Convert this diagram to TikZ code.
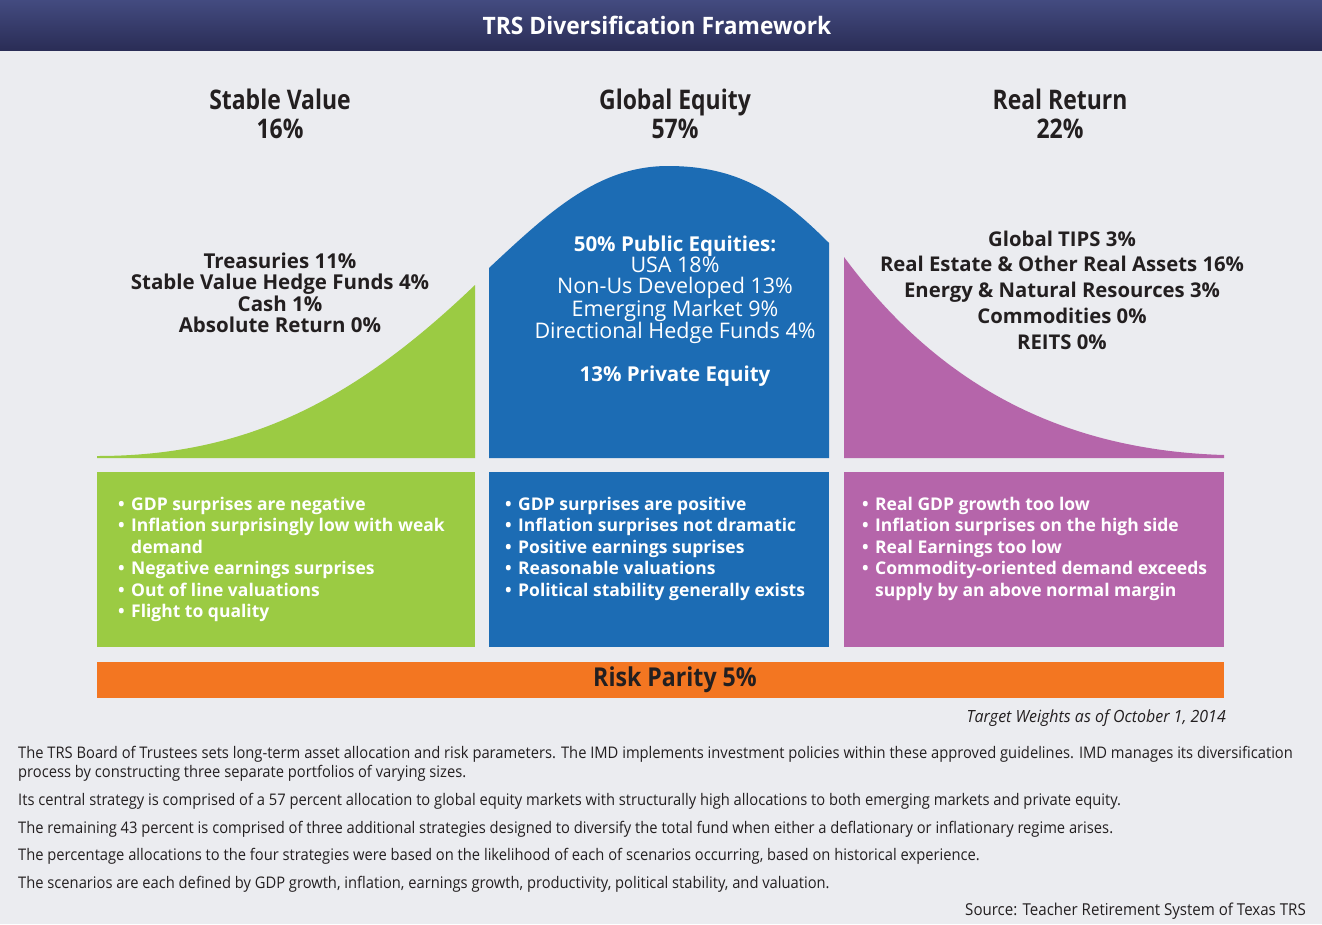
\documentclass[tikz,border=0pt]{standalone}
\usepackage{fontspec}
\setmainfont{Open Sans}
\newfontfamily\cond[FakeStretch=0.8]{Open Sans}
\newfontfamily\condhead[FakeStretch=0.85]{Open Sans}
\newfontfamily\condtitle[FakeStretch=0.95]{Open Sans}
\newfontfamily\condrp[FakeStretch=0.89]{Open Sans}
\newfontfamily\condbody[FakeStretch=0.92]{Open Sans}
\definecolor{bg}{RGB}{235,236,240}
\definecolor{navytop}{RGB}{67,75,128}
\definecolor{navybot}{RGB}{42,45,86}
\definecolor{sgreen}{RGB}{155,203,67}
\definecolor{sblue}{RGB}{28,108,180}
\definecolor{spurple}{RGB}{181,101,170}
\definecolor{sorange}{RGB}{243,118,33}
\definecolor{ink}{RGB}{35,31,32}
\newcommand{\bul}{\makebox[13pt][l]{•}}
\newcommand{\nobul}{\makebox[13pt][l]{}}
\begin{document}
\begin{tikzpicture}[x=1pt,y=-1pt,
  header/.style={align=center,text=ink,inner sep=0pt,font=\condhead\bfseries\fontsize{27}{29}\selectfont},
  curvetext/.style={align=center,inner sep=0pt,font=\bfseries\fontsize{20.5}{21.4}\selectfont},
  bullets/.style={align=left,anchor=north west,inner sep=0pt,text=white,font=\bfseries\fontsize{17.5}{21.4}\selectfont},
  bodyline/.style={anchor=west,inner sep=0pt,text=ink,font=\condbody\fontsize{16}{18}\selectfont}]
\useasboundingbox (0,0) rectangle (1322,924);
\fill[bg] (0,0) rectangle (1322,924);
% title bar
\shade[top color=navytop,bottom color=navybot] (0,0) rectangle (1322,50);
\node[text=white,font=\condtitle\bfseries\fontsize{24}{30}\selectfont] (title) at (657,25) {TRS Diversification Framework};
% headers
\node[header] (hsv) at (280,114) {Stable Value\\16\%};
\node[header] (hge) at (675,114) {Global Equity\\57\%};
\node[header] (hrr) at (1060,114) {Real Return\\22\%};
% curves
\fill[sgreen] (97,458) -- (97,456) .. controls (247,456) and (355,400) .. (475,285) -- (475,458) -- cycle;
\fill[sblue] (489,458) -- (489,268) .. controls (549,212) and (598,166) .. (668,166) .. controls (738,166) and (779,193) .. (829,243) -- (829,458) -- cycle;
\fill[spurple] (844,458) -- (844,257) .. controls (934,378.5) and (1054,450) .. (1224,455) -- (1224,458) -- cycle;
% curve texts
\node[curvetext,text=ink] (tsv) at (280,293) {Treasuries 11\%\\Stable Value Hedge Funds 4\%\\Cash 1\%\\Absolute Return 0\%};
\node[curvetext,text=white] (tge) at (675,311) {50\% Public Equities:\\{\mdseries\fontsize{21.5}{21.4}\selectfont USA 18\%}\\{\mdseries\fontsize{21.5}{21.4}\selectfont Non-Us Developed 13\%}\\{\mdseries\fontsize{21.5}{21.4}\selectfont Emerging Market 9\%}\\{\mdseries\fontsize{21.5}{21.4}\selectfont Directional Hedge Funds 4\%}\\[21.4pt]13\% Private Equity};
\node[curvetext,text=ink,font=\bfseries\fontsize{20.3}{25.8}\selectfont] (trr) at (1062,290) {Global TIPS 3\%\\Real Estate \& Other Real Assets 16\%\\Energy \& Natural Resources 3\%\\Commodities 0\%\\REITS 0\%};
% bullet boxes
\fill[sgreen] (97,472) rectangle (475,647);
\fill[sblue] (489,472) rectangle (829,647);
\fill[spurple] (844,472) rectangle (1224,647);
\node[bullets] (bsv) at (118,497) {\bul GDP surprises are negative\\\bul Inflation surprisingly low with weak\\\nobul demand\\\bul Negative earnings surprises\\\bul Out of line valuations\\\bul Flight to quality};
\node[bullets] (bge) at (505,497) {\bul GDP surprises are positive\\\bul Inflation surprises not dramatic\\\bul Positive earnings suprises\\\bul Reasonable valuations\\\bul Political stability generally exists};
\node[bullets] (brr) at (862,497) {\bul Real GDP growth too low\\\bul Inflation surprises on the high side\\\bul Real Earnings too low\\\bul Commodity-oriented demand exceeds\\\nobul supply by an above normal margin};
% risk parity
\fill[sorange] (97,662) rectangle (1224,698);
\node[text=ink,font=\condrp\bfseries\fontsize{26}{28}\selectfont] (rp) at (675,680) {Risk Parity 5\%};
\node[anchor=east,inner sep=0pt,text=ink,font=\condtitle\itshape\fontsize{16.8}{18}\selectfont] (tw) at (1226,718) {Target Weights as of October 1, 2014};
% body text
\node[bodyline] (p1) at (18,754) {The TRS Board of Trustees sets long-term asset allocation and risk parameters. The IMD implements investment policies within these approved guidelines. IMD manages its diversification};
\node[bodyline] (p1b) at (18,773) {process by constructing three separate portfolios of varying sizes.};
\node[bodyline] (p2) at (18,801) {Its central strategy is comprised of a 57 percent allocation to global equity markets with structurally high allocations to both emerging markets and private equity.};
\node[bodyline] (p3) at (18,829) {The remaining 43 percent is comprised of three additional strategies designed to diversify the total fund when either a deflationary or inflationary regime arises.};
\node[bodyline] (p4) at (18,856) {The percentage allocations to the four strategies were based on the likelihood of each of scenarios occurring, based on historical experience.};
\node[bodyline] (p5) at (18,884) {The scenarios are each defined by GDP growth, inflation, earnings growth, productivity, political stability, and valuation.};
\node[anchor=east,inner sep=0pt,text=ink,font=\condbody\fontsize{16.4}{18}\selectfont] (src) at (1306,911) {Source: Teacher Retirement System of Texas TRS};
\end{tikzpicture}
\end{document}
